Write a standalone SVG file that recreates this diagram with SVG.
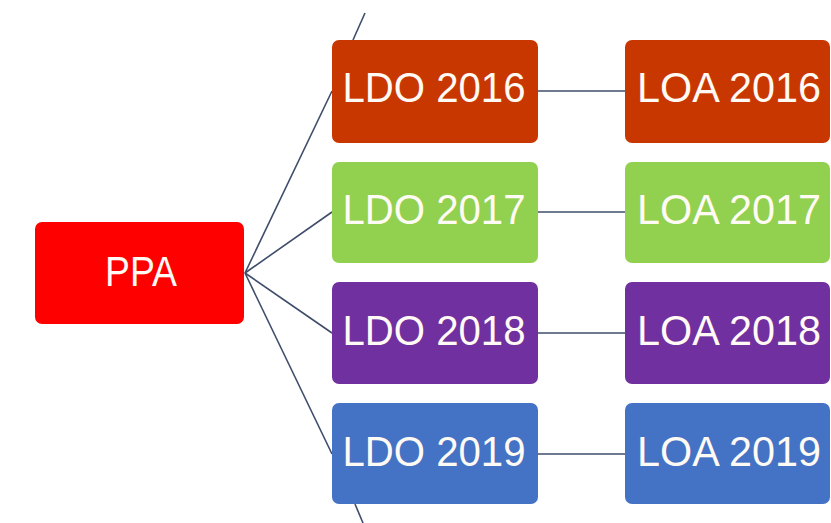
<svg xmlns="http://www.w3.org/2000/svg" width="831" height="523" viewBox="0 0 831 523">
<style>
.box{stroke:none}
.t{font-family:"Liberation Sans",Arial,sans-serif;font-size:42px;fill:#fffaf4;text-anchor:middle}
.c{stroke:#3f4d6b;stroke-width:1.6;fill:none}
</style>
<rect width="831" height="523" fill="#ffffff"/>
<g id="connectors">
<line class="c" x1="245" y1="273" x2="332" y2="91"/>
<line class="c" x1="245" y1="273" x2="332" y2="212"/>
<line class="c" x1="245" y1="273" x2="332" y2="333"/>
<line class="c" x1="245" y1="273" x2="332" y2="454"/>
<line class="c" x1="538" y1="91" x2="625" y2="91"/>
<line class="c" x1="538" y1="212" x2="625" y2="212"/>
<line class="c" x1="538" y1="333" x2="625" y2="333"/>
<line class="c" x1="538" y1="454" x2="625" y2="454"/>
<line class="c" x1="353" y1="40" x2="365" y2="13"/>
<line class="c" x1="355" y1="504" x2="363" y2="523"/>
</g>
<g id="ppa">
<rect class="box" x="35" y="222" width="209" height="102" rx="7" fill="#fe0000"/>
<text class="t" x="141" y="286" textLength="72" lengthAdjust="spacingAndGlyphs">PPA</text>
</g>
<g id="ldo2016">
<rect class="box" x="332" y="40" width="206" height="103" rx="7" fill="#c93700"/>
<text class="t" x="434" y="102" textLength="183" lengthAdjust="spacingAndGlyphs">LDO 2016</text>
</g>
<g id="ldo2017">
<rect class="box" x="332" y="162" width="206" height="101" rx="7" fill="#92d050"/>
<text class="t" x="434" y="224" textLength="183" lengthAdjust="spacingAndGlyphs">LDO 2017</text>
</g>
<g id="ldo2018">
<rect class="box" x="332" y="282" width="206" height="102" rx="7" fill="#7030a0"/>
<text class="t" x="434" y="345" textLength="183" lengthAdjust="spacingAndGlyphs">LDO 2018</text>
</g>
<g id="ldo2019">
<rect class="box" x="332" y="403" width="206" height="101" rx="7" fill="#4472c4"/>
<text class="t" x="434" y="466" textLength="183" lengthAdjust="spacingAndGlyphs">LDO 2019</text>
</g>
<g id="loa2016">
<rect class="box" x="625" y="40" width="205" height="103" rx="7" fill="#c93700"/>
<text class="t" x="729" y="102" textLength="184" lengthAdjust="spacingAndGlyphs">LOA 2016</text>
</g>
<g id="loa2017">
<rect class="box" x="625" y="162" width="205" height="101" rx="7" fill="#92d050"/>
<text class="t" x="729" y="224" textLength="184" lengthAdjust="spacingAndGlyphs">LOA 2017</text>
</g>
<g id="loa2018">
<rect class="box" x="625" y="282" width="205" height="102" rx="7" fill="#7030a0"/>
<text class="t" x="729" y="345" textLength="184" lengthAdjust="spacingAndGlyphs">LOA 2018</text>
</g>
<g id="loa2019">
<rect class="box" x="625" y="403" width="205" height="101" rx="7" fill="#4472c4"/>
<text class="t" x="729" y="466" textLength="184" lengthAdjust="spacingAndGlyphs">LOA 2019</text>
</g>
</svg>
